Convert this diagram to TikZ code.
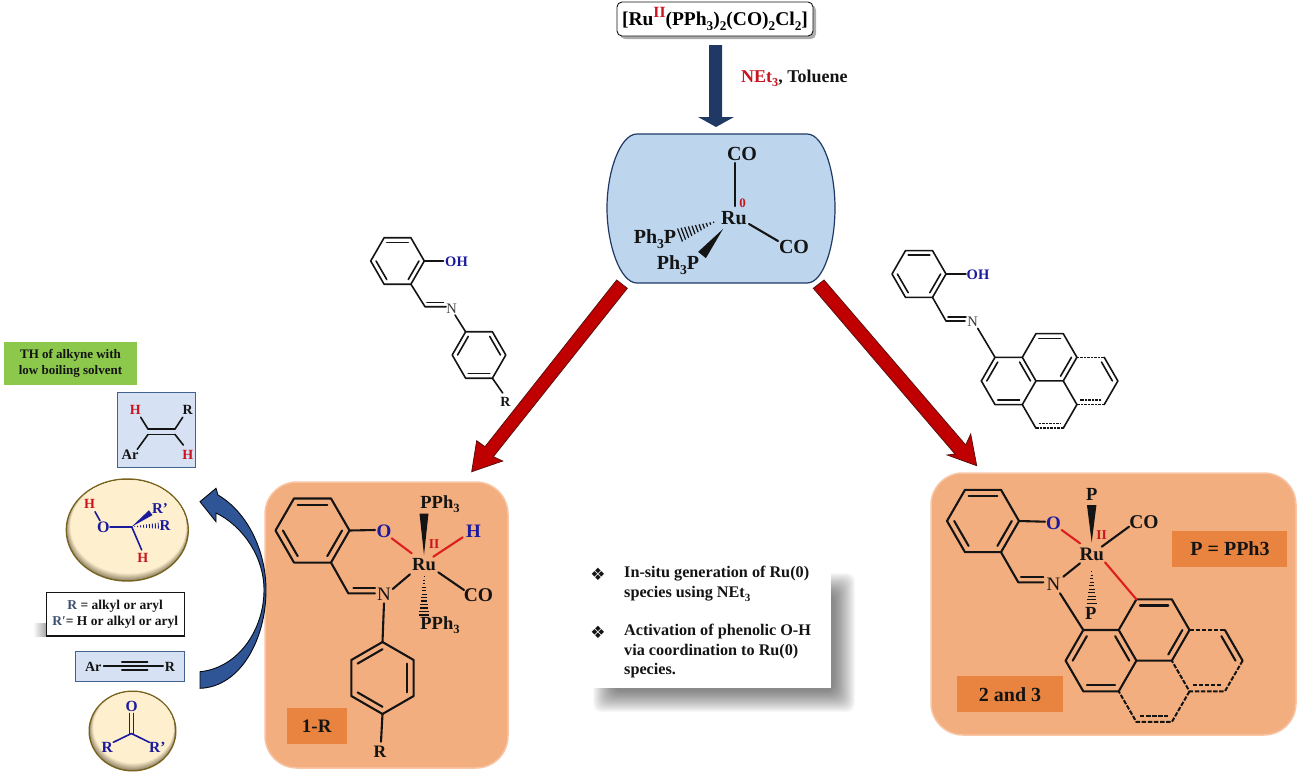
\documentclass[tikz,border=0pt]{standalone}
\usepackage{fontspec}
\setmainfont{Liberation Serif}
\newfontfamily\symfont{DejaVu Sans}
\usetikzlibrary{calc}
\definecolor{ink}{HTML}{141414}
\definecolor{metalblue}{HTML}{BDD6EE}
\definecolor{navy}{HTML}{1F3864}
\definecolor{royal}{HTML}{2F5597}
\definecolor{atomblue}{HTML}{1A1A9C}
\definecolor{atomred}{HTML}{C8141E}
\definecolor{bondred}{HTML}{DC1E1E}
\definecolor{brick}{HTML}{C00000}
\definecolor{brickdark}{HTML}{5A1010}
\definecolor{panel}{HTML}{F3AE7F}
\definecolor{panelrim}{HTML}{F8C6A4}
\definecolor{tag}{HTML}{E98340}
\definecolor{leaf}{HTML}{8CC84B}
\definecolor{pale}{HTML}{D6E2F3}
\definecolor{paleedge}{HTML}{41618F}
\definecolor{cream}{HTML}{FFF1CF}
\definecolor{olive}{HTML}{77631C}
\definecolor{umber}{HTML}{8A7C60}
\definecolor{slatetxt}{HTML}{3B5070}
\newcommand{\sz}[1]{\fontsize{#1}{#1}\selectfont}
\newcommand{\dn}[1]{\raisebox{-.24em}{\scalebox{.68}{#1}}}
\newcommand{\up}[1]{\raisebox{.42em}{\scalebox{.8}{#1}}}
\newcommand{\hexring}[4]{% prefix, cx, cy, r ; flat top
  \foreach \i in {0,...,5}{\coordinate (#1\i) at ($(#2,#3)+({\i*60}:#4)$);}
  \coordinate (#1C) at (#2,#3);
  \draw[mbond] (#10)--(#11)--(#12)--(#13)--(#14)--(#15)--cycle;}
\newcommand{\hexringp}[4]{% pointy top
  \foreach \i in {0,...,5}{\coordinate (#1\i) at ($(#2,#3)+({30+\i*60}:#4)$);}
  \coordinate (#1C) at (#2,#3);
  \draw[mbond] (#10)--(#11)--(#12)--(#13)--(#14)--(#15)--cycle;}
\newcommand{\inb}[4][mbond]{\draw[#1] ($(#2)!.2!(#4)$) -- ($(#3)!.2!(#4)$);}
\newcommand{\solw}[3]{\fill[ink] (#1) -- ($(#2)!#3/2!90:(#1)$) -- ($(#2)!#3/2!-90:(#1)$) -- cycle;}
\newcommand{\hashw}[4]{\foreach \k in {1,...,#4}{%
  \pgfmathsetmacro\tt{\k/#4}%
  \coordinate (hp) at ($(#1)!\tt!(#2)$);
  \draw[hashline] ($(hp)!{\tt*#3/2}!90:(#1)$) -- ($(hp)!{\tt*#3/2}!-90:(#1)$);}}
\newcommand{\pyrpts}[4]{% prefix, x, y, edge
  \pgfmathsetmacro\pe{#4}\pgfmathsetmacro\ph{#4*0.866}
  \coordinate (#1a) at (#2,#3);
  \coordinate (#1b) at ($(#1a)+(\pe,0)$);
  \coordinate (#1c) at ($(#1a)+(1.5*\pe,-\ph)$);
  \coordinate (#1d) at ($(#1a)+(2.5*\pe,-\ph)$);
  \coordinate (#1e) at ($(#1a)+(3*\pe,0)$);
  \coordinate (#1f) at ($(#1a)+(4*\pe,0)$);
  \coordinate (#1g) at ($(#1a)+(4.5*\pe,\ph)$);
  \coordinate (#1h) at ($(#1a)+(4*\pe,2*\ph)$);
  \coordinate (#1i) at ($(#1a)+(3*\pe,2*\ph)$);
  \coordinate (#1j) at ($(#1a)+(2.5*\pe,\ph)$);
  \coordinate (#1k) at ($(#1a)+(1.5*\pe,\ph)$);
  \coordinate (#1l) at ($(#1a)+(\pe,2*\ph)$);
  \coordinate (#1m) at ($(#1a)+(0,2*\ph)$);
  \coordinate (#1n) at ($(#1a)+(-.5*\pe,\ph)$);
  \coordinate (#1o) at ($(#1a)+(1.5*\pe,3*\ph)$);
  \coordinate (#1p) at ($(#1a)+(2.5*\pe,3*\ph)$);
  \coordinate (#1R1) at ($(#1a)!.5!(#1l)$);
  \coordinate (#1R2) at ($(#1c)!.5!(#1j)$);
  \coordinate (#1R3) at ($(#1f)!.5!(#1i)$);
  \coordinate (#1R4) at ($(#1k)!.5!(#1p)$);
  \draw[mbond] (#1n)--(#1a)--(#1b)--(#1c)--(#1d)--(#1e)--(#1j)--(#1k)--(#1b);
  \draw[mbond] (#1n)--(#1m)--(#1l)--(#1k);
  \inb{#1c}{#1d}{#1R2}\inb{#1e}{#1j}{#1R2}\inb{#1b}{#1k}{#1R1}\inb{#1a}{#1n}{#1R1}\inb{#1m}{#1l}{#1R1}}
\newcommand{\creamell}[5]{% name, cx, cy, rx, ry
  \node[draw=none,inner sep=0,minimum width=#4*2pt,minimum height=#5*2pt] (#1) at (#2,#3) {};
  \fill[olive] (#2,#3) ellipse ({#4} and {#5});
  \begin{scope}
    \clip (#2,#3) ellipse ({#4-1.7} and {#5-1.7});
    \fill[umber] (#2,#3) ellipse ({#4} and {#5});
    \foreach \d in {0,...,9}{
      \pgfmathsetmacro\pc{\d*11}
      \fill[cream!\pc!umber] ({#2+\d*0.12},{#3-\d*0.4}) ellipse ({#4-\d*0.42} and {#5-\d*0.5});}
  \end{scope}}
\tikzset{
  mbond/.style={draw=ink,line width=2.1pt,line cap=round,line join=round},
  lbond/.style={draw=ink,line width=1.6pt,line cap=round,line join=round},
  rbond/.style={draw=bondred,line width=2.1pt,line cap=round},
  dbond/.style={draw=ink,line width=2pt,dash pattern=on 4.5pt off 1.6pt},
  ldbond/.style={draw=ink,line width=1.5pt,dash pattern=on 2.5pt off 1pt},
  hashline/.style={draw=ink,line width=1.25pt},
  txt/.style={inner sep=0,text=ink,font=\bfseries},
  panelbox/.style={fill=panel,draw=panelrim,line width=1.5pt,rounded corners=32pt},
  tagbox/.style={fill=tag,draw=none},
  palebox/.style={fill=pale,draw=paleedge,line width=1pt}
}
\begin{document}
\begin{tikzpicture}[x=1pt,y=-1pt]
\useasboundingbox (0,0) rectangle (1299,774);
% ---- top box
\fill[gray!65,rounded corners=5pt] (620,5) rectangle (816,39);
\node[draw=ink,fill=white,rounded corners=5pt,line width=.9pt,minimum width=196pt,minimum height=34pt,inner sep=0,font=\bfseries\sz{19.5}] (precursor) at (715,19) {[Ru{\color{atomred}\up{II}}(PPh\dn{3})\dn{2}(CO)\dn{2}Cl\dn{2}]};
% dark arrow
\fill[navy] (709,45)--(722,45)--(722,117)--(734,117)--(716,127)--(698,117)--(709,117)--cycle;
\node[txt,anchor=west,font=\bfseries\sz{18}] (cond) at (741,78.5) {{\color{atomred}NEt\dn{3}}, Toluene};
% ---- blue Ru(0)
\path[fill=metalblue,draw=navy,line width=1.2pt] (637,134) -- (807,134) .. controls (824,134) and (835,172) .. (835,208) .. controls (835,244) and (824,283) .. (807,283) -- (637,283) .. controls (620,283) and (607,244) .. (607,208) .. controls (607,172) and (620,134) .. (637,134) -- cycle;
\node[txt,font=\bfseries\sz{20}] (c0ru) at (734,218) {Ru};
\node[txt,font=\bfseries\sz{20}] (c0co1) at (742,153.5) {CO};
\node[txt,font=\bfseries\sz{20}] (c0co2) at (794,247) {CO};
\node[txt,font=\bfseries\sz{20}] (c0p1) at (655,239) {Ph\dn{3}P};
\node[txt,font=\bfseries\sz{20}] (c0p2) at (678,265.5) {Ph\dn{3}P};
\node[inner sep=0,text=atomred,font=\bfseries\sz{13}] (c0ox) at (742.5,203) {0};
\coordinate (c0a) at (735,163);\coordinate (c0b) at (735,206);
\draw[mbond] (c0a)--(c0b);
\coordinate (c0c) at (749,224);\coordinate (c0d) at (778,241);
\draw[mbond] (c0c)--(c0d);
\coordinate (c0e) at (717,221);\coordinate (c0f) at (680,235);
\hashw{c0e}{c0f}{14pt}{11}
\coordinate (c0g) at (723,229);\coordinate (c0h) at (702,255);
\solw{c0g}{c0h}{10pt}
% ---- red arrows
\path[fill=brick,draw=brickdark,line width=.8pt,line join=miter] (616.7,280)--(627.3,288.3)--(493.3,456.7)--(502.7,461)--(471.7,471.7)--(476.7,440.7)--(485,446.7)--cycle;
\path[fill=brick,draw=brickdark,line width=.8pt,line join=miter] (813.3,288.3)--(824,280)--(965.7,445)--(970.7,434)--(976.7,465.7)--(947.3,455)--(955,454)--cycle;
% ---- ligand left
\begin{scope}[mbond/.style={lbond}]
\hexring{la}{397.5}{261}{26.8}
\inb{la4}{la5}{laC}\inb{la0}{la1}{laC}\inb{la2}{la3}{laC}
\coordinate (laO) at (443.5,261);\draw[mbond] (la0)--(laO);
\coordinate (laD) at (425,306.7);\coordinate (laE) at (446,306.7);
\draw[mbond] (la1)--(laD)--(laE);
\coordinate (laF) at (427,302.3);\coordinate (laG) at (443.5,302.3);
\draw[mbond] (laF)--(laG);
\hexring{lb}{479}{355}{26.8}
\inb{lb3}{lb4}{lbC}\inb{lb0}{lb5}{lbC}\inb{lb1}{lb2}{lbC}
\coordinate (laH) at (455,315);\draw[mbond] (laH)--(lb4);
\coordinate (laI) at (502.7,393);\draw[mbond] (lb1)--(laI);
\end{scope}
\node[inner sep=0,text=atomblue,font=\bfseries\sz{14.5}] (laOH) at (456.5,261.5) {OH};
\node[inner sep=0,text=ink!85,font=\sz{14.5}] (laN) at (451.5,308.5) {N};
\node[txt,font=\bfseries\sz{14}] (laR) at (505.5,402) {R};
% ---- ligand right
\begin{scope}[mbond/.style={lbond},dbond/.style={ldbond}]
\hexring{ra}{919}{274}{27}
\inb{ra4}{ra5}{raC}\inb{ra0}{ra1}{raC}\inb{ra2}{ra3}{raC}
\coordinate (raO) at (966,274);\draw[mbond] (ra0)--(raO);
\coordinate (raD) at (946,321);\coordinate (raE) at (965,321);
\draw[mbond] (ra1)--(raD)--(raE);
\coordinate (raF) at (948,316.7);\coordinate (raG) at (966,316.7);
\draw[mbond] (raF)--(raG);
\pyrpts{rp}{995}{357.3}{27.3}
\coordinate (raH) at (977.7,328.3);\draw[mbond] (raH)--(rpa);
\draw[dbond] (rpe)--(rpf);
\draw[mbond] (rpf)--(rpg)--(rph);
\draw[dbond] (rph)--(rpi);
\draw[mbond] (rpi)--(rpj);
\draw[mbond] (rpi)--(rpp);\draw[dbond] (rpp)--(rpo);\draw[mbond] (rpo)--(rpl);
\inb{rpf}{rpg}{rpR3}
\inb[dbond]{rph}{rpi}{rpR3}
\inb[dbond]{rpo}{rpp}{rpR4}
\end{scope}
\node[inner sep=0,text=atomblue,font=\bfseries\sz{14.5}] (raOH) at (978,274.5) {OH};
\node[inner sep=0,text=ink!85,font=\sz{14.5}] (raN) at (972.5,321.5) {N};
% ---- left panel 1-R
\draw[panelbox] (265,482) rectangle (508,768);
\hexring{pa}{312.5}{530.5}{37}
\inb{pa4}{pa5}{paC}\inb{pa0}{pa1}{paC}\inb{pa2}{pa3}{paC}
\node[inner sep=0,text=atomblue,font=\bfseries\sz{19}] (pO) at (384,531.5) {O};
\node[inner sep=0,text=ink,font=\sz{19}] (pN) at (384,594.5) {N};
\node[txt,font=\bfseries\sz{18.5}] (pRu) at (424,564.5) {Ru};
\node[inner sep=0,text=atomred,font=\bfseries\sz{13.5}] (pII) at (434,544.5) {II};
\node[txt,font=\bfseries\sz{18.5}] (pP1) at (440,504) {PPh\dn{3}};
\node[txt,font=\bfseries\sz{18.5}] (pP2) at (440,625) {PPh\dn{3}};
\node[inner sep=0,text=atomblue,font=\bfseries\sz{19}] (pH) at (473.5,531) {H};
\node[txt,font=\bfseries\sz{19.5}] (pCO) at (478.5,595) {CO};
\node[txt,font=\bfseries\sz{17.5}] (pR) at (380,752) {R};
\coordinate (pa) at (375,530);\draw[mbond] (pa0)--(pa);
\coordinate (pb) at (391.7,538.3);\coordinate (pc) at (411.7,553.3);\draw[rbond] (pb)--(pc);
\coordinate (pd) at (348.3,593.3);\coordinate (pe) at (375,593.3);\draw[mbond] (pa1)--(pd)--(pe);
\coordinate (pf) at (353.3,587.7);\coordinate (pg) at (375,587.7);\draw[mbond] (pf)--(pg);
\coordinate (ph) at (392.7,589);\coordinate (pi) at (410,574.3);\draw[mbond] (ph)--(pi);
\hexringp{pb}{382.5}{678}{36}
\inb{pb3}{pb4}{pbC}\inb{pb5}{pb0}{pbC}\inb{pb1}{pb2}{pbC}
\coordinate (pj) at (384,603.3);\draw[mbond] (pj)--(pb4);
\coordinate (pk) at (381,741.7);\draw[mbond] (pb1)--(pk);
\coordinate (pl) at (424,555);\coordinate (pm) at (424,513.5);\solw{pl}{pm}{9pt}
\coordinate (pn) at (462.7,537.3);\coordinate (po) at (433.3,556.7);\draw[rbond] (pn)--(po);
\coordinate (pp) at (438.3,572.3);\coordinate (pq) at (464,590);\draw[mbond] (pp)--(pq);
\coordinate (pr) at (424,573.3);\coordinate (ps) at (424,615);\hashw{pr}{ps}{10pt}{12}
\node[tagbox,minimum width=60pt,minimum height=36pt,inner sep=0] (ptag) at (316.7,726.3) {};
\node[txt,font=\bfseries\sz{19}] (ptagt) at (316.7,726.7) {1-R};
% ---- right panel 2 and 3
\draw[panelbox] (931,473) rectangle (1296,735);
\hexring{qa}{983}{521}{36}
\inb{qa4}{qa5}{qaC}\inb{qa0}{qa1}{qaC}\inb{qa2}{qa3}{qaC}
\node[inner sep=0,text=atomblue,font=\bfseries\sz{19}] (qO) at (1053.5,523.5) {O};
\node[inner sep=0,text=ink,font=\sz{19}] (qN) at (1053.5,584.5) {N};
\node[txt,font=\bfseries\sz{19}] (qRu) at (1091.7,554.5) {Ru};
\node[inner sep=0,text=atomred,font=\bfseries\sz{13.5}] (qII) at (1101.7,535) {II};
\node[txt,font=\bfseries\sz{18.5}] (qP1) at (1091.7,494.5) {P};
\node[txt,font=\bfseries\sz{18.5}] (qP2) at (1090.7,613.5) {P};
\node[txt,font=\bfseries\sz{19.5}] (qCO) at (1144,522.5) {CO};
\coordinate (qa) at (1045,521.7);\draw[mbond] (qa0)--(qa);
\coordinate (qb) at (1061.7,530);\coordinate (qc) at (1080,543.3);\draw[rbond] (qb)--(qc);
\coordinate (qd) at (1018.3,582.3);\coordinate (qe) at (1043.3,582.3);\draw[mbond] (qa1)--(qd)--(qe);
\coordinate (qf) at (1021,576.7);\coordinate (qg) at (1043.3,576.7);\draw[mbond] (qf)--(qg);
\coordinate (qh) at (1063.3,576.7);\coordinate (qi) at (1080,563.3);\draw[mbond] (qh)--(qi);
\pyrpts{qp}{1083.3}{630}{35.4}
\coordinate (qj) at (1060,593.3);\draw[mbond] (qj)--(qpa);
\draw[dbond] (qpe)--(qpf);\draw[mbond] (qpf)--(qpg);\draw[dbond] (qpg)--(qph)--(qpi)--(qpj);
\draw[dbond] (qpi)--(qpp)--(qpo)--(qpl);
\inb{qpf}{qpg}{qpR3}
\inb[dbond]{qph}{qpi}{qpR3}
\inb[dbond]{qpo}{qpp}{qpR4}
\coordinate (qk) at (1091.7,542.3);\coordinate (ql) at (1091.7,505);\solw{qk}{ql}{9.5pt}
\coordinate (qm) at (1101.7,546.7);\coordinate (qn) at (1129,526.7);\draw[mbond] (qm)--(qn);
\coordinate (qo) at (1091.7,568.3);\coordinate (qq) at (1091.7,603.3);\hashw{qo}{qq}{10pt}{10}
\coordinate (qr) at (1105,562.3);\draw[rbond] (qr)--(qpc);
\node[tagbox,minimum width=114.5pt,minimum height=36pt,inner sep=0] (qtag1) at (1229.5,548.7) {};
\node[txt,font=\bfseries\sz{20}] (qtag1t) at (1230,549) {P = PPh3};
\node[tagbox,minimum width=105.5pt,minimum height=35.7pt,inner sep=0] (qtag2) at (1010,693.8) {};
\node[txt,font=\bfseries\sz{20}] (qtag2t) at (1010,694.3) {2 and 3};
% ---- notes
\foreach \s in {-8,...,13}{
  \fill[black,opacity=.026,rounded corners=8pt] ({606-\s},{586-\s}) rectangle ({842+\s},{699+\s});}
\fill[white] (583,558) rectangle (830.7,687.7);
\node[inner sep=0,text=ink,font=\symfont\sz{17}] (nb1) at (598,574.5) {❖};
\node[inner sep=0,text=ink,font=\symfont\sz{17}] (nb2) at (598,632.5) {❖};
\node[txt,anchor=north west,align=left,font=\bfseries\fontsize{16.2}{20}\selectfont] (n1) at (624,565.5) {In-situ generation of Ru(0)\\species using NEt\dn{3}};
\node[txt,anchor=north west,align=left,font=\bfseries\fontsize{16.2}{19.5}\selectfont] (n2) at (624,624) {Activation of phenolic O-H\\via coordination to Ru(0)\\species.};
% ---- curved arrow
\path[fill=royal,draw=black!85!navy,line width=.9pt,line join=miter] (200,688.3) .. controls (240,687) and (266,640) .. (266,590) .. controls (266,550) and (247,512) .. (218,495) -- (216,488.3) -- (200,501.7) -- (216,521.7) -- (216,513) .. controls (241,525) and (264,555) .. (264,590) .. controls (264,630) and (238,668) .. (200,671.7) -- cycle;
% ---- green tag
\node[fill=leaf,minimum width=133pt,minimum height=43pt,inner sep=0,align=center,text=ink,font=\bfseries\fontsize{13}{16}\selectfont] (green) at (70.5,363.5) {TH of alkyne with\\low boiling solvent};
% ---- alkene
\draw[palebox] (117,392.7) rectangle (195.7,467);
\node[inner sep=0,text=atomred,font=\bfseries\sz{14}] (aH1) at (135.3,409.5) {H};
\node[txt,font=\bfseries\sz{14}] (aR) at (187.7,409.5) {R};
\node[txt,font=\bfseries\sz{14.5}] (aAr) at (130,455) {Ar};
\node[inner sep=0,text=atomred,font=\bfseries\sz{14}] (aH2) at (187.7,454.5) {H};
\coordinate (a3) at (148,434.5);\coordinate (a4) at (175,434.5);
\coordinate (a5) at (148,429);\coordinate (a6) at (175,429);
\coordinate (a7) at (140.7,417.3);\coordinate (a8) at (137.3,449.3);
\coordinate (a9) at (182.7,417.3);\coordinate (a10) at (183.3,445);
\draw[lbond] (a3)--(a4);\draw[lbond] (a5)--(a6);
\draw[lbond] (a7)--(a5);\draw[lbond] (a8)--(a3);\draw[lbond] (a9)--(a6);\draw[lbond] (a10)--(a4);
% ---- alcohol ellipse
\creamell{ell1}{127.3}{530}{61.7}{51.7}
\tikzset{lblue/.style={draw=atomblue,line width=1.6pt,line cap=round}}
\node[inner sep=0,text=atomred,font=\bfseries\sz{14}] (eH1) at (89.5,504) {H};
\node[inner sep=0,text=atomblue,font=\bfseries\sz{16}] (eO) at (103.3,527.3) {O};
\node[inner sep=0,text=atomred,font=\bfseries\sz{14}] (eH2) at (142.7,558) {H};
\node[inner sep=0,text=atomblue,font=\bfseries\sz{15}] (eR1) at (160,509) {R'};
\node[inner sep=0,text=atomblue,font=\bfseries\sz{15}] (eR2) at (165,525.5) {R};
\coordinate (e1) at (95,511.7);\coordinate (e2) at (100,520.7);\draw[lblue] (e1)--(e2);
\coordinate (e3) at (110,526.7);\coordinate (e4) at (131.7,526.7);\draw[lblue] (e3)--(e4);
\coordinate (e5) at (141.7,550);\draw[lblue] (e4)--(e5);
\coordinate (e6) at (150.7,512.7);
\fill[atomblue] (e4) -- ($(e6)!3pt!90:(e4)$) -- ($(e6)!3pt!-90:(e4)$) -- cycle;
\coordinate (e7) at (158.3,525.7);
\foreach \k in {1,...,9}{
  \pgfmathsetmacro\tt{\k/9}
  \coordinate (hp) at ($(e4)!\tt!(e7)$);
  \draw[atomblue,line width=.9pt] ($(hp)!{\tt*3pt}!90:(e4)$) -- ($(hp)!{\tt*3pt}!-90:(e4)$);}
% ---- legend
\shade[left color=white,right color=gray!70] (33,623) rectangle (46.3,636);
\node[draw=ink,fill=white,line width=1.1pt,minimum width=137.7pt,minimum height=43.3pt,inner sep=0,align=center,text=ink,font=\bfseries\fontsize{13.5}{16.7}\selectfont] (legend) at (115.2,614.3) {{\color{slatetxt}R} = alkyl or aryl\\{\color{slatetxt}R′}= H or alkyl or aryl};
% ---- alkyne
\draw[palebox] (75,651.7) rectangle (184,681);
\node[txt,font=\bfseries\sz{14}] (yAr) at (93.3,666.7) {Ar};
\node[txt,font=\bfseries\sz{14}] (yR) at (170,666.7) {R};
\coordinate (y1) at (103.5,666);\coordinate (y2) at (163.3,666);
\coordinate (y3) at (121.7,662);\coordinate (y4) at (147.7,662);
\coordinate (y5) at (121.7,670);\coordinate (y6) at (147.7,670);
\draw[lbond,line width=1.2pt] (y1)--(y2);\draw[lbond,line width=1.2pt] (y3)--(y4);\draw[lbond,line width=1.2pt] (y5)--(y6);
% ---- ketone ellipse
\creamell{ell2}{132.5}{731}{44}{40.5}
\node[inner sep=0,text=atomblue,font=\bfseries\sz{15.5}] (kO) at (131.7,706) {O};
\node[inner sep=0,text=atomblue,font=\bfseries\sz{15.5}] (kR1) at (107.3,747.3) {R};
\node[inner sep=0,text=atomblue,font=\bfseries\sz{15.5}] (kR2) at (157.3,747.3) {R'};
\coordinate (k1) at (129.3,713.5);\coordinate (k2) at (129.3,733.5);
\coordinate (k3) at (133.5,713.5);\coordinate (k4) at (133.5,733.5);
\coordinate (k5) at (113.3,742.3);\coordinate (k6) at (149.3,742.3);\coordinate (k7) at (131.4,733.5);
\draw[lblue] (k1)--(k2);\draw[lblue] (k3)--(k4);\draw[lblue] (k5)--(k7);\draw[lblue] (k6)--(k7);
\end{tikzpicture}
\end{document}
